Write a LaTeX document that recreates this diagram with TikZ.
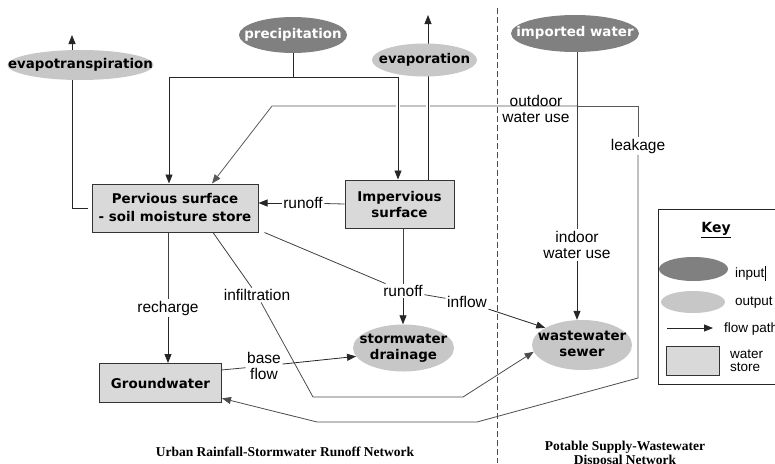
\documentclass[tikz,border=0pt]{standalone}
\usepackage{fontspec}
\setmainfont{Liberation Sans}
\newfontfamily\nodefont{DejaVu Sans}
\newfontfamily\capfont{Liberation Serif}
\usetikzlibrary{shapes.geometric,arrows.meta}

\newcommand{\ovl}[1]{\makebox[0pt]{\begin{tabular}{@{}c@{}}#1\end{tabular}}}

\begin{document}
\begin{tikzpicture}[x=1pt,y=-1pt,
  flow/.style={draw=black!85,line width=0.8pt,-{Triangle[length=9pt,width=7pt]}},
  pipe/.style={draw=black!75,line width=0.8pt},
  halo/.style={draw=white,line width=4pt},
  store/.style={rectangle,draw=black!80,line width=1pt,fill=black!15,inner sep=0pt,align=center,
    font=\nodefont\bfseries\fontsize{13.4}{16}\selectfont},
  source/.style={ellipse,fill=black!50,text=white,inner sep=0pt,
    font=\nodefont\bfseries\fontsize{13.4}{16}\selectfont},
  sink/.style={ellipse,fill=black!22,inner sep=0pt,
    font=\nodefont\bfseries\fontsize{13.4}{16}\selectfont},
  lbl/.style={inner sep=1.5pt,align=center,font=\fontsize{15.5}{16.5}\selectfont},
  keytxt/.style={inner sep=2pt,align=left,font=\fontsize{13.5}{13}\selectfont},
  caption/.style={inner sep=0pt,align=center,font=\capfont\bfseries\fontsize{13.5}{14}\selectfont},
  divider/.style={draw=black!70,line width=0.8pt,dash pattern=on 6pt off 3pt}]
\useasboundingbox (0,0) rectangle (775,463);
\clip (0,0) rectangle (775,463);

% water stores
\node [store,minimum width=166pt,minimum height=48pt,
  font=\nodefont\bfseries\fontsize{13.4}{18}\selectfont] (pervious) at (175,208) {Pervious surface\\- soil moisture store};
\node [store,minimum width=109pt,minimum height=48pt] (impervious) at (399.5,204) {Impervious\\surface};
\node [store,minimum width=122pt,minimum height=39pt] (ground) at (160.5,383) {Groundwater};

% outdoor use and leakage
\coordinate (oj) at (577,106);
\coordinate (ow) at (272,106);
\coordinate (lk1) at (638,106);
\coordinate (lk2) at (638,378);
\coordinate (lk3) at (477,422);
\coordinate (lk4) at (317,422);
\node [lbl] (leak) at (638,146) {leakage};
\draw [flow,draw=black!65] (oj) -- (ow) -- ([xshift=37pt]pervious.north);
\draw [pipe,draw=black!65] (oj) -- (lk1) -- (leak);
\draw [flow,draw=black!70] (leak) -- (lk2) -- (lk3) -- (lk4) -- (ground.-14);
\node [lbl] (outdoor) at (536,109) {outdoor\\water use};

% losses to the air (under the ovals)
\coordinate (etop) at (72,35);
\coordinate (vtop) at (428,15);
\draw [flow] ([xshift=-4pt]pervious.west) -| (etop);
\draw [halo] ([xshift=28.5pt]impervious.north) -- (vtop);
\draw [flow] ([xshift=28.5pt]impervious.north) -- (vtop);

% inputs and outputs
\node [source,minimum width=108pt,minimum height=36pt] (precip) at (293,35) {\ovl{precipitation}};
\node [source,minimum width=128pt,minimum height=37pt] (imported) at (575,33.5) {\ovl{imported water}};
\node [sink,minimum width=146pt,minimum height=30pt] (evapotr) at (80.5,65) {\ovl{evapotranspiration}};
\node [sink,minimum width=105pt,minimum height=33pt] (evap) at (424.5,60) {\ovl{evaporation}};
\node [sink,minimum width=101pt,minimum height=47pt] (storm) at (403.5,348) {\ovl{stormwater\\drainage}};
\node [sink,minimum width=100pt,minimum height=50pt] (sewer) at (582,345) {\ovl{wastewater\\sewer}};

% labels on the paths
\node [lbl] (ro1) at (303,203) {runoff};
\node [lbl] (ro2) at (403,291) {runoff};
\node [lbl] (infl) at (467,302) {inflow};
\node [lbl] (infil) at (257,295) {infiltration};
\node [lbl] (rech) at (168,308) {recharge};
\node [lbl] (bflow) at (264,366) {base\\flow};
\node [lbl] (indoor) at (577,245) {indoor\\water use};

% precipitation
\coordinate (split) at (293,77);
\draw [flow] (precip.south) -- (split) -| ([xshift=-6pt]pervious.north);
\draw [halo] ([xshift=-1.5pt]impervious.north |- split) -- ([xshift=-1.5pt,yshift=8pt]impervious.north);
\draw [flow] (split) -| ([xshift=-1.5pt]impervious.north);

% imported water to the sewer
\draw [pipe] (imported.south -| indoor) -- (indoor);
\draw [flow] (indoor) -- (indoor |- sewer.north);

% runoff
\draw [pipe] (impervious.west) -- (ro1);
\draw [flow] (ro1) -- (ro1 -| pervious.east);
\draw [pipe] (impervious.south -| ro2) -- (ro2);
\draw [flow] (ro2) -- (ro2 |- storm.north);
\draw [pipe] ([xshift=6pt]pervious.south east) -- (ro2);
\draw [pipe] (ro2) -- (infl);
\draw [flow] (infl) -- (sewer.155);

% infiltration
\coordinate (if1) at (313,397);
\coordinate (if2) at (463,397);
\draw [pipe] ([xshift=38pt]pervious.south) -- (infil);
\draw [flow,draw=black!70] (infil) -- (if1) -- (if2) -- (sewer.188);

% recharge and base flow
\draw [pipe] ([xshift=-7pt]pervious.south) -- (rech);
\draw [flow] (rech) -- (rech |- ground.north);
\draw [pipe] (ground.12) -- (bflow);
\draw [flow] (bflow) -- (storm.190);

% the two networks
\draw [divider] (497,8) -- (497,463);
\node [caption] (urban) at (285,452) {Urban Rainfall-Stormwater Runoff Network};
\node [caption] (potable) at (625,454) {Potable Supply-Wastewater\\Disposal Network};

% key
\draw [black!85,line width=1pt] (658,209) rectangle (790,384);
\node [inner sep=0pt,font=\nodefont\bfseries\fontsize{14}{16}\selectfont] (keyt) at (716,230) {\underline{Key}};
\node [source,minimum width=69pt,minimum height=24pt] (kin) at (693.5,269) {};
\node [keytxt,anchor=west] (kint) at (733,273) {input\hspace{1pt}\rule[-3pt]{0.7pt}{15pt}};
\node [sink,minimum width=64pt,minimum height=22pt] (kout) at (693,302) {};
\node [keytxt,anchor=west] (koutt) at (733,303) {output};
\coordinate (ka1) at (667,328);
\coordinate (ka2) at (713,328);
\draw [flow] (ka1) -- (ka2);
\node [keytxt,anchor=west] (kflow) at (722,329) {flow path};
\node [store,minimum width=53pt,minimum height=29pt] (kstore) at (692.5,360.5) {};
\node [keytxt,anchor=west] (kstoret) at (728,361) {water\\store};

\end{tikzpicture}
\end{document}
